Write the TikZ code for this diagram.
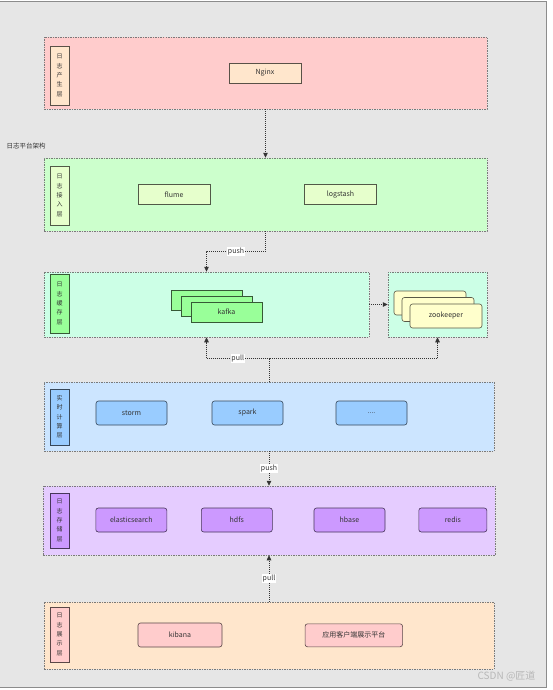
\documentclass[tikz,border=0pt]{standalone}
\usepackage{fontspec}
\setmainfont{Noto Sans CJK SC}
\usetikzlibrary{arrows.meta,positioning}
\definecolor{ink}{HTML}{333333}
\definecolor{frame}{HTML}{E6E6E6}
\definecolor{rim}{HTML}{8C8C8C}
\definecolor{dash}{HTML}{7A7A7A}
\definecolor{pinkbg}{HTML}{FFCCCC}
\definecolor{peach}{HTML}{FFE6CC}
\definecolor{mint}{HTML}{CCFFCC}
\definecolor{lime}{HTML}{E6FFCC}
\definecolor{aqua}{HTML}{CCFFE6}
\definecolor{leaf}{HTML}{99FF99}
\definecolor{cream}{HTML}{FFFFCC}
\definecolor{sky}{HTML}{CCE5FF}
\definecolor{azure}{HTML}{99CCFF}
\definecolor{lilac}{HTML}{E5CCFF}
\definecolor{violet}{HTML}{CC99FF}

\begin{document}
\begin{tikzpicture}[
  x=1pt, y=-1pt,
  font=\fontsize{7}{8.5}\selectfont,
  >={Triangle[length=5pt,width=4.5pt]},
  layer/.style={draw=dash, line width=0.5pt, dash pattern=on 1.5pt off 1pt, inner sep=0pt},
  tag/.style={draw=#1!35!black, fill=#1, line width=0.6pt, minimum width=19pt, inner sep=0pt, align=center, font=\fontsize{6}{9.3}\selectfont, text=ink},
  comp/.style={draw=#1!35!black, fill=#1, line width=0.6pt, minimum width=71pt, minimum height=20pt, inner sep=0pt, text=ink},
  soft/.style={comp=#1, rounded corners=2.5pt, minimum height=24pt},
  link/.style={->, draw=ink, line width=0.8pt, dash pattern=on 1pt off 1pt},
  word/.style={fill=white, inner sep=0.8pt, text=ink}
]
\useasboundingbox (0,0) rectangle (552,690);
\fill[white] (0,0) rectangle (552,690);
\draw[fill=frame, draw=rim, line width=0.8pt] (-1,1.5) rectangle (546,687.5);

\node[anchor=west, text=ink, font=\fontsize{6.5}{8}\selectfont] (title) at (3,146.5) {日志平台架构};

\node[layer, fill=pinkbg, minimum width=443pt, minimum height=72pt] (gen) at (265.5,73) {};
\node[layer, fill=mint, minimum width=443pt, minimum height=73pt] (acc) at (265.5,194.5) {};
\node[layer, fill=aqua, minimum width=325pt, minimum height=65pt] (cache) at (206.5,304.5) {};
\node[layer, fill=aqua, minimum width=99pt, minimum height=65pt] (zoo) at (437.5,304.5) {};
\node[layer, fill=sky, minimum width=450pt, minimum height=69pt] (calc) at (269,416.5) {};
\node[layer, fill=lilac, minimum width=452pt, minimum height=69pt] (store) at (269,520.5) {};
\node[layer, fill=peach, minimum width=450pt, minimum height=67pt] (show) at (269,635.5) {};

\node[tag=peach, minimum height=59pt] (genT) at (59.5,75.5) {日\\志\\产\\生\\层};
\node[tag=lime, minimum height=59pt] (accT) at (59.5,195.5) {日\\志\\接\\入\\层};
\node[tag=leaf, minimum height=59pt] (cacheT) at (59.5,303.5) {日\\志\\缓\\存\\层};
\node[tag=azure, minimum height=56pt] (calcT) at (59.5,417) {实\\时\\计\\算\\层};
\node[tag=violet, minimum height=55pt] (storeT) at (59.5,520.5) {日\\志\\存\\储\\层};
\node[tag=pinkbg, minimum height=55pt] (showT) at (59.5,634.5) {日\\志\\展\\示\\层};

\node[comp=peach, minimum width=72pt] (nginx) at (265,73) {Nginx};
\node[comp=lime, minimum width=72pt] (flume) at (174,194.5) {flume};
\node[comp=lime, minimum width=72pt] (logstash) at (340.5,194.5) {logstash};

\node[comp=leaf] (kafka1) at (206.5,300) {};
\node[comp=leaf] (kafka2) at ([shift={(10,6)}]kafka1) {};
\node[comp=leaf] (kafka) at ([shift={(10,6)}]kafka2) {kafka};

\node[soft=cream, minimum width=72pt] (zk1) at (430,303) {};
\node[soft=cream, minimum width=72pt] (zk2) at ([shift={(8,6.5)}]zk1) {};
\node[soft=cream, minimum width=72pt] (zk) at ([shift={(8,6.5)}]zk2) {zookeeper};

\node[soft=azure] (storm) at (131.5,413) {storm};
\node[soft=azure] (spark) at (247.5,413) {spark};
\node[soft=azure] (more) at (371.5,413) {....};

\node[soft=violet] (es) at (131.3,520) {elasticsearch};
\node[soft=violet] (hdfs) at (236.8,520) {hdfs};
\node[soft=violet] (hbase) at (349.5,520) {hbase};
\node[soft=violet, minimum width=68pt] (redis) at (452.8,520) {redis};

\node[soft=pinkbg, minimum width=84pt] (kibana) at (180,635) {kibana};
\node[soft=pinkbg, minimum width=97.5pt, minimum height=23pt] (app) at (353.8,635.3) {应用客户端展示平台};

\draw[link] (gen) -- (acc);
\draw[link] (acc.south) -- ++(0,20) -| node[pos=0.25, word] {push} (cache.north);
\draw[link] (cache) -- (zoo);
\draw[link] (calc.north) -- ++(0,-23) -| node[pos=0.25, word] {pull} (cache.south);
\draw[link] (calc.north) -- ++(0,-23) -| (zoo.south);
\draw[link] (calc) -- node[word] {push} (store);
\draw[link] (show) -- node[word] {pull} (store);

\node[anchor=east, text=black!28, font=\fontsize{10}{12}\selectfont] (mark) at (539,676) {CSDN @匠道};
\end{tikzpicture}
\end{document}
